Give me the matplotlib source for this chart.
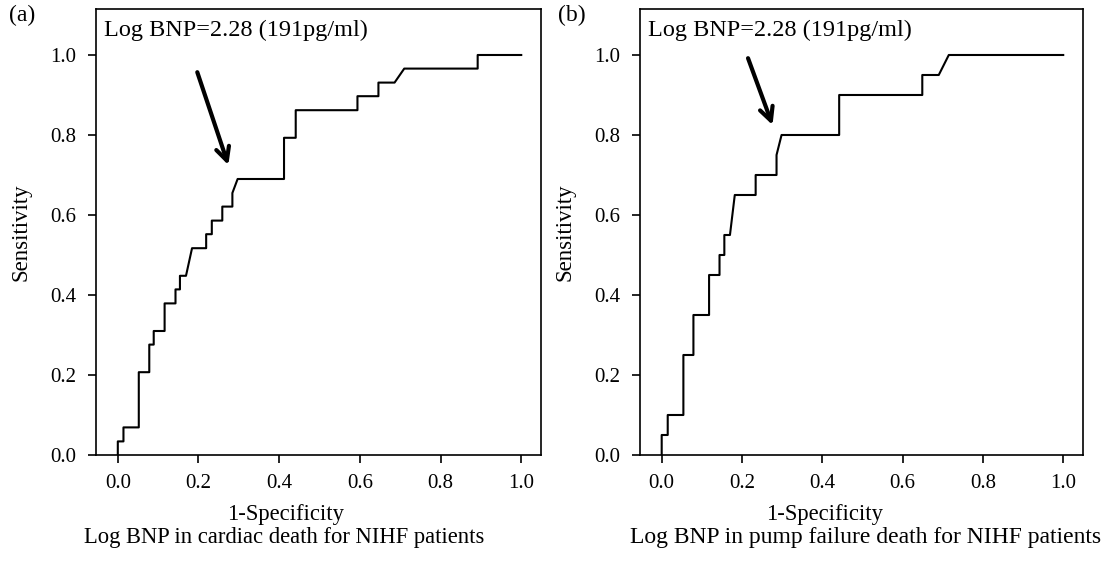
import matplotlib
matplotlib.use("Agg")
import matplotlib.pyplot as plt

plt.rcParams['font.family'] = ['Liberation Serif', 'DejaVu Serif']

# ROC vertices (1-specificity, sensitivity)
fpr_a = [0, 0, 0.014, 0.014, 0.052, 0.052, 0.078, 0.078, 0.089, 0.089, 0.116, 0.116,
         0.143, 0.143, 0.154, 0.154, 0.169, 0.184, 0.219, 0.219, 0.233, 0.233, 0.259,
         0.259, 0.284, 0.284, 0.297, 0.412, 0.412, 0.441, 0.441, 0.594, 0.594, 0.646,
         0.646, 0.686, 0.710, 0.892, 0.892, 1.0]
sens_a = [0, 0.034, 0.034, 0.069, 0.069, 0.207, 0.207, 0.276, 0.276, 0.310, 0.310, 0.379,
          0.379, 0.414, 0.414, 0.448, 0.448, 0.517, 0.517, 0.552, 0.552, 0.586, 0.586,
          0.621, 0.621, 0.655, 0.690, 0.690, 0.793, 0.793, 0.862, 0.862, 0.897, 0.897,
          0.931, 0.931, 0.966, 0.966, 1.0, 1.0]

fpr_b = [0, 0, 0.015, 0.015, 0.054, 0.054, 0.079, 0.079, 0.118, 0.118, 0.144, 0.144,
         0.156, 0.156, 0.170, 0.182, 0.234, 0.234, 0.286, 0.286, 0.2985, 0.442, 0.442,
         0.649, 0.649, 0.690, 0.715, 1.0]
sens_b = [0, 0.05, 0.05, 0.10, 0.10, 0.25, 0.25, 0.35, 0.35, 0.45, 0.45, 0.50,
          0.50, 0.55, 0.55, 0.65, 0.65, 0.70, 0.70, 0.75, 0.80, 0.80, 0.90,
          0.90, 0.95, 0.95, 1.0, 1.0]

cut_label = "Log BNP=2.28 (191pg/ml)"
titles = ["Log BNP in cardiac death for NIHF patients",
          "Log BNP in pump failure death for NIHF patients"]
panels = ["(a)", "(b)"]
# arrow tail and tip in data coords
arrows = [((0.197, 0.957), (0.274, 0.725)),
          ((0.215, 0.992), (0.276, 0.825))]
ticks = [0.0, 0.2, 0.4, 0.6, 0.8, 1.0]

fig = plt.figure(figsize=(11.05, 5.62), dpi=100)
ax1 = fig.add_axes([0.0869, 0.1904, 0.4027, 0.7936])
ax2 = fig.add_axes([0.5792, 0.1904, 0.4008, 0.7936])

data = [(fpr_a, sens_a), (fpr_b, sens_b)]
for i, ax in enumerate([ax1, ax2]):
    x, y = data[i]
    ax.plot(x, y, color="black", lw=1.5)
    ax.set_xlim(-0.054, 1.049)
    ax.set_ylim(0, 1.115)
    ax.set_xticks(ticks)
    ax.set_yticks(ticks)
    ax.set_xticklabels(["%.1f" % t for t in ticks])
    ax.set_yticklabels(["%.1f" % t for t in ticks])
    ax.tick_params(direction="out", length=6, width=1.2, labelsize=15, pad=8)
    for s in ax.spines.values():
        s.set_linewidth(1.2)
    ax.set_ylabel("Sensitivity", fontsize=16.5, labelpad=14)
    ax.text(0.018, 0.952, cut_label, transform=ax.transAxes, fontsize=17.5, va="center", ha="left")
    tail, tip = arrows[i]
    ax.annotate("", xy=tip, xytext=tail,
                arrowprops=dict(arrowstyle="->", lw=3, color="black", mutation_scale=24,
                                shrinkA=0, shrinkB=0))

# x labels and panel captions sit a bit left of the axes centre in the original
fig.text(0.2588, 0.0854, "1-Specificity", fontsize=16.3, ha="center", va="center")
fig.text(0.7466, 0.0854, "1-Specificity", fontsize=16.3, ha="center", va="center")
fig.text(0.257, 0.044, titles[0], fontsize=16.3, ha="center", va="center")
fig.text(0.570, 0.044, titles[1], fontsize=17, ha="left", va="center")

fig.text(0.008, 0.973, panels[0], fontsize=17, va="center")
fig.text(0.505, 0.973, panels[1], fontsize=17, va="center")

fig.savefig("out.png", dpi=100)
